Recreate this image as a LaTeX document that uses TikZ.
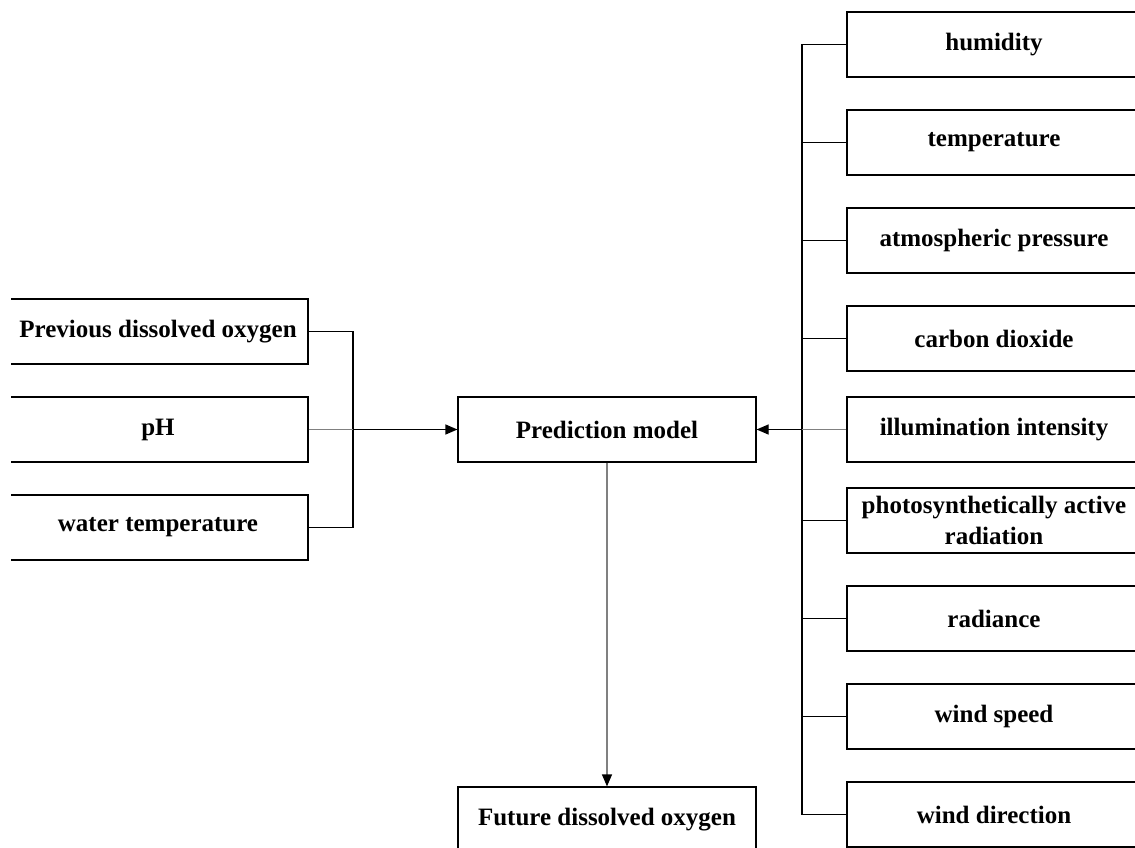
\documentclass[tikz,border=0pt]{standalone}
\usepackage{fontspec}
\setmainfont{Liberation Serif}
\usetikzlibrary{arrows.meta}

\begin{document}
\begin{tikzpicture}[x=1pt, y=-1pt,
        box/.style = {draw=black, line width=1.2pt, minimum height=65pt, inner sep=2pt,
                      align=center, font=\fontsize{25}{31}\selectfont\bfseries},
        inbox/.style = {box, minimum width=300pt},
        outbox/.style = {box, minimum width=294pt},
        modelbox/.style = {box, minimum width=298pt},
        link/.style = {black, line width=1.2pt},
        paleLink/.style = {black!50, line width=1.2pt},
        tip/.style = {-{Triangle[length=12pt, width=10pt, color=black]}}]
        \fill[white] (0,0) rectangle (1135,848);
        \useasboundingbox (0,0) rectangle (1135,848);
        \clip (11,0) rectangle (1135,848);

        % water-side inputs
        \node[inbox] (prevdo) at (158,331.5) {Previous dissolved oxygen};
        \node[inbox] (ph)     at (158,429.5) {pH};
        \node[inbox] (wtemp)  at (158,527.5) {water temperature};

        % model and output
        \node[modelbox] (model)  at (607,429.5) {Prediction model};
        \node[modelbox] (future) at (607,819.5) {Future dissolved oxygen};

        % weather inputs
        \node[outbox] (humid) at (994,44.5)  {humidity};
        \node[outbox] (atemp) at (994,142.5) {temperature};
        \node[outbox] (press) at (994,240.5) {atmospheric pressure};
        \node[outbox] (co2)   at (994,338.5) {carbon dioxide};
        \node[outbox] (illum) at (994,429.5) {illumination intensity};
        \node[outbox] (par)   at (994,520.5) {photosynthetically active\\radiation};
        \node[outbox] (rad)   at (994,618.5) {radiance};
        \node[outbox] (wspd)  at (994,716.5) {wind speed};
        \node[outbox] (wdir)  at (994,814.5) {wind direction};

        \coordinate (leftjoin)  at (353,429.5);
        \coordinate (rightjoin) at (802,429.5);

        \draw[link] (prevdo.east) -| (leftjoin);
        \draw[link] (wtemp.east) -| (leftjoin);
        \draw[paleLink] (ph.east) -- (leftjoin);
        \draw[link, tip] (leftjoin) -- (model.west);

        \foreach \src in {humid, atemp, press, co2, par, rad, wspd, wdir}
            \draw[link] (\src.west) -| (rightjoin);
        \draw[paleLink] (illum.west) -- (rightjoin);
        \draw[link, tip] (rightjoin) -- (model.east);

        \draw[paleLink, tip] (model.south) -- (future.north);
    \end{tikzpicture}
\end{document}
